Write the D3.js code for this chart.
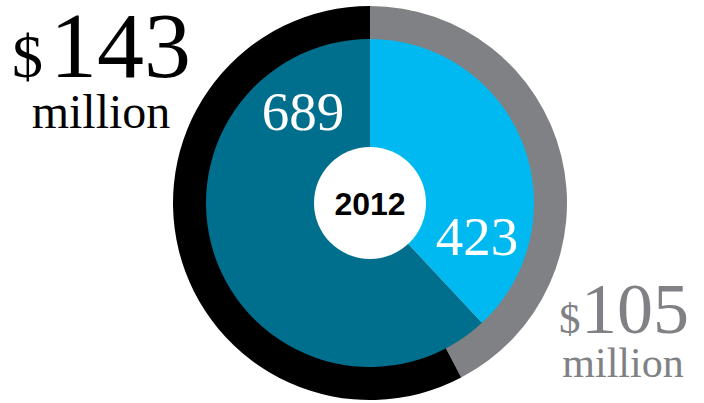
<!DOCTYPE html>
<html>
<head>
<meta charset="utf-8">
<script src="https://cdn.jsdelivr.net/npm/d3@7"></script>
<style>
  html, body { margin: 0; padding: 0; background: #fff; }
  svg { display: block; }
</style>
</head>
<body>
<svg id="chart"></svg>
<script>
// outer ring: spending (millions), inner pie: counts, both for 2012
const year = "2012";
const ringKeys = ["b", "a"];
const ringValues = [105, 143];
const ringColors = ["#808184", "#000000"];

const pieKeys = ["b", "a"];
const pieValues = [423, 689];
const pieColors = ["#00b9f1", "#006f8e"];

const width = 704, height = 403;
const cx = 370, cy = 203;

const svg = d3.select("#chart")
    .attr("width", width)
    .attr("height", height);

const g = svg.append("g")
    .attr("transform", `translate(${cx},${cy})`);

const pie = d3.pie().sort(null);

// outer ring
const ringArc = d3.arc().innerRadius(163).outerRadius(197);
g.append("g")
  .selectAll("path")
  .data(pie(ringValues))
  .join("path")
    .attr("d", ringArc)
    .attr("fill", (d, i) => ringColors[i]);

// inner pie
const pieArc = d3.arc().innerRadius(0).outerRadius(164);
g.append("g")
  .selectAll("path")
  .data(pie(pieValues))
  .join("path")
    .attr("d", pieArc)
    .attr("fill", (d, i) => pieColors[i]);

// centre hole
g.append("circle")
    .attr("r", 56)
    .attr("fill", "#fff");

g.append("text")
    .attr("text-anchor", "middle")
    .attr("y", 12)
    .style("font-family", "'Liberation Sans', Arial, sans-serif")
    .style("font-weight", "700")
    .style("font-size", "32px")
    .attr("fill", "#000")
    .text(year);

const serif = "'Liberation Serif', 'Times New Roman', serif";

// counts on the pie
g.append("text")
    .attr("text-anchor", "middle")
    .attr("x", -67).attr("y", -73)
    .style("font-family", serif)
    .style("font-size", "55px")
    .attr("fill", "#fff")
    .text(pieValues[1]);

g.append("text")
    .attr("text-anchor", "middle")
    .attr("x", 107).attr("y", 52)
    .style("font-family", serif)
    .style("font-size", "55px")
    .attr("fill", "#fff")
    .text(pieValues[0]);

// money labels
function money(x$, xNum, y, size$, sizeNum, xm, ym, sizeM, color, value) {
  svg.append("text")
      .attr("x", x$).attr("y", y)
      .style("font-family", serif)
      .style("font-size", size$ + "px")
      .attr("fill", color)
      .text("$");
  svg.append("text")
      .attr("x", xNum).attr("y", y)
      .attr("text-anchor", "end")
      .style("font-family", serif)
      .style("font-size", sizeNum + "px")
      .attr("fill", color)
      .text(value);
  svg.append("text")
      .attr("x", xm).attr("y", ym)
      .attr("text-anchor", "middle")
      .style("font-family", serif)
      .style("font-size", sizeM + "px")
      .attr("fill", color)
      .text("million");
}

money(12, 191, 77, 62, 94, 101, 128, 48, ringColors[1], ringValues[1]);
money(559, 689, 333, 43, 72, 623, 377, 42, ringColors[0], ringValues[0]);
</script>
</body>
</html>
